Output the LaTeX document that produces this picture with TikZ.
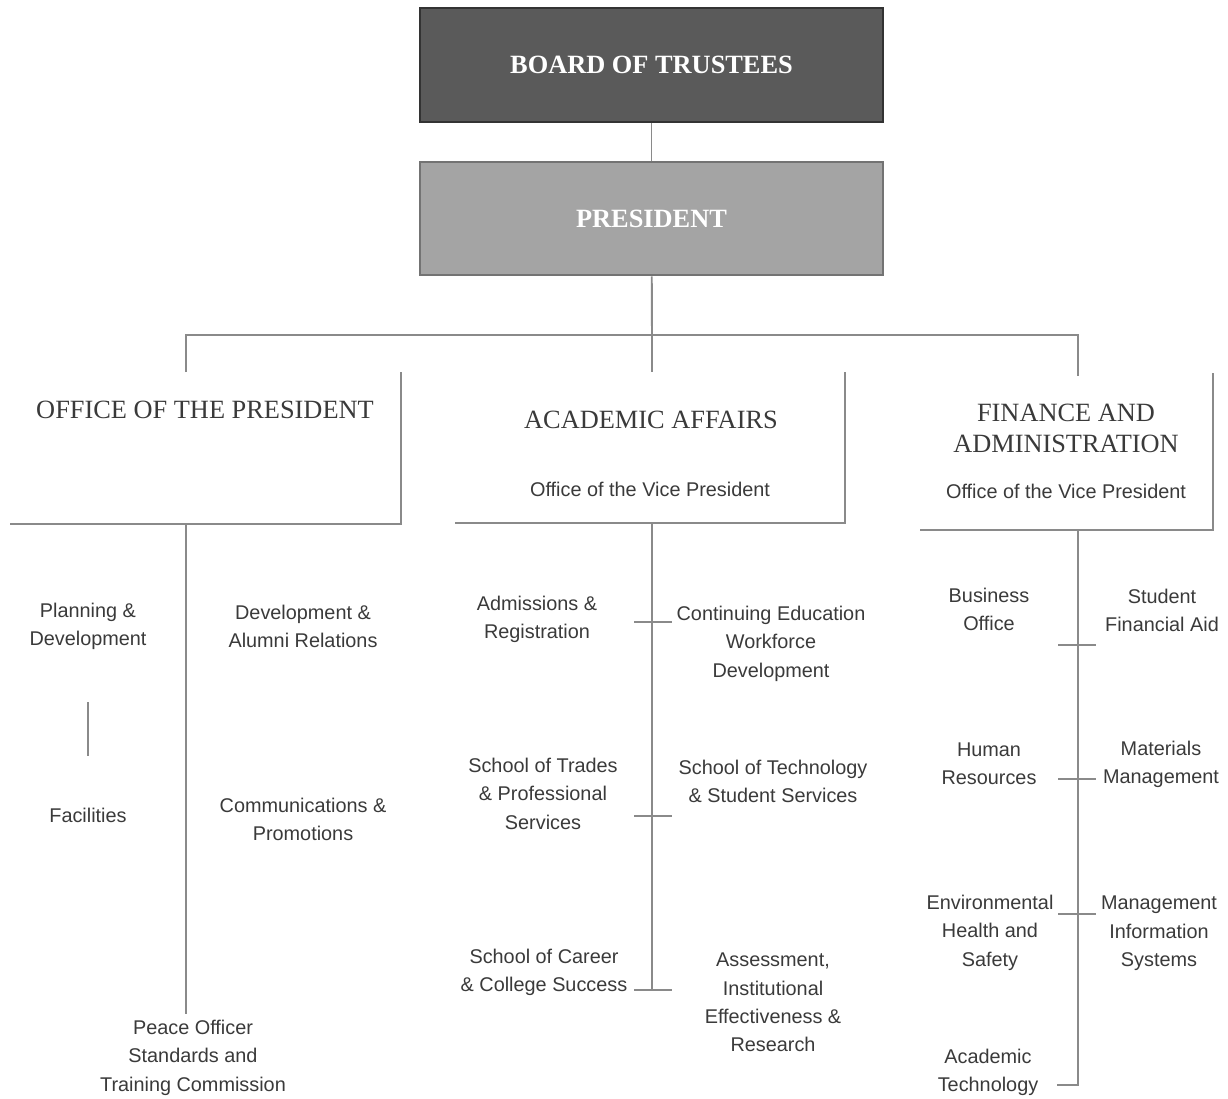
\documentclass[tikz,border=0pt]{standalone}
\usepackage{fontspec}
\setmainfont{Liberation Serif}
\setsansfont{Liberation Sans}
\usepackage{xcolor}

\definecolor{boardgray}{HTML}{5A5A5A}
\definecolor{presgray}{HTML}{A4A4A4}
\definecolor{linegray}{HTML}{8A8A8A}
\definecolor{textgray}{HTML}{3A3A3A}

\begin{document}
\begin{tikzpicture}[x=0.02cm,y=-0.02cm]
    \useasboundingbox (0,0) rectangle (1228,1099);

    % top boxes
    \begin{scope}[every node/.style={draw=black!80,line width=1.2pt,minimum width=9.26cm,minimum height=2.27cm,text=white,font=\bfseries\fontsize{15}{18}\selectfont}]
      \node[fill=boardgray] (bot) at (651.5,65) {BOARD OF TRUSTEES};
      \node[fill=presgray,draw=black!55] (pres) at (651.5,218.5) {PRESIDENT};
    \end{scope}

    % division headings
    \begin{scope}[every node/.style={text=textgray,align=center,font=\fontsize{15}{17.6}\selectfont}]
      \node (opres) at (205,410) {OFFICE OF THE PRESIDENT};
      \node (acad) at (651,420) {ACADEMIC AFFAIRS};
      \node (fin) at (1066,428) {FINANCE AND\\ADMINISTRATION};
    \end{scope}

    % units
    \begin{scope}[every node/.style={text=textgray,align=center,yshift=-0.05cm,font=\sffamily\fontsize{11.3}{16.2}\selectfont}]
      \node (acadvp) at (650,487) {Office of the Vice President};
      \node (finvp) at (1066,489) {Office of the Vice President};

      \node (plan) at (88,624) {Planning \&\\Development};
      \node (devar) at (303,624) {Development \&\\Alumni Relations};
      \node (fac) at (88,813) {Facilities};
      \node (comm) at (303,817) {Communications \&\\Promotions};
      \node (post) at (193,1055) {Peace Officer\\Standards and\\Training Commission};

      \node (adm) at (537,617) {Admissions \&\\Registration};
      \node (cewd) at (771,641) {Continuing Education\\Workforce\\Development};
      \node (trades) at (543,791) {School of Trades\\\& Professional\\Services};
      \node (tech) at (773,779) {School of Technology\\\& Student Services};
      \node (career) at (544,970) {School of Career\\\& College Success};
      \node (aier) at (773,1000) {Assessment,\\Institutional\\Effectiveness \&\\Research};

      \node (busoff) at (989,607) {Business\\Office};
      \node (sfa) at (1162,608) {Student\\Financial Aid};
      \node (hr) at (989,761) {Human\\Resources};
      \node (matm) at (1161,762) {Materials\\Management};
      \node (ehs) at (990,930) {Environmental\\Health and\\Safety};
      \node (mis) at (1159,931) {Management\\Information\\Systems};
      \node (acadtech) at (988,1070) {Academic\\Technology};
    \end{scope}

    \coordinate (split) at (652,335);
    \coordinate (opres-in) at (186,372);
    \coordinate (acad-in) at (652,372);
    \coordinate (fin-in) at (1078,376);
    \coordinate (opres-tr) at (401,372);
    \coordinate (opres-bl) at (10,524);
    \coordinate (acad-tr) at (845,372);
    \coordinate (acad-bl) at (455,523);
    \coordinate (fin-tr) at (1213,373);
    \coordinate (fin-bl) at (920,530);
    \coordinate (opres-stem) at (186,524);
    \coordinate (acad-stem) at (652,523);
    \coordinate (acad-end) at (652,990);
    \coordinate (fin-stem) at (1078,530);
    \coordinate (fin-end) at (1057,1085);

    \begin{scope}[draw=linegray,line width=1.1pt]
      \draw (bot) -- (pres);
      \draw (pres) -- (split);
      \draw (opres-in) |- (split) -| (fin-in);
      \draw (split) -- (acad-in);

      \draw[line width=0.9pt] (opres-tr) |- (opres-bl);
      \draw[line width=0.9pt] (acad-tr) |- (acad-bl);
      \draw[line width=0.9pt] (fin-tr) |- (fin-bl);

      \draw (opres-stem) -- (opres-stem |- post.north);
      \draw[shorten <=1.52cm,shorten >=1.2cm] (plan.center) -- (fac.center);
      \draw (acad-stem) -- (acad-end);
      \draw (fin-stem) |- (fin-end);

      \foreach \y in {622,816,990}
        \draw[line width=0.8pt] (634,\y) -- (672,\y);
      \foreach \y in {645,779,914}
        \draw[line width=0.8pt] (1058,\y) -- (1096,\y);
    \end{scope}
\end{tikzpicture}
\end{document}
